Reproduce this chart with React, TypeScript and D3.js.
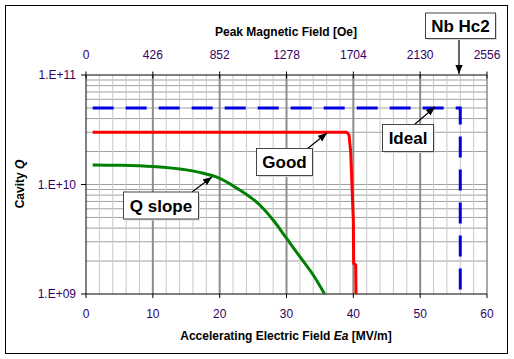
import React from "react";
import * as d3 from "d3";

const eaTicks = [0, 10, 20, 30, 40, 50, 60];
const hpkLabels = ["0", "426", "852", "1278", "1704", "2130", "2556"];
const qTickValues = [1e9, 1e10, 1e11];
const qTickLabels = ["1.E+09", "1.E+10", "1.E+11"];

const idealEa = [1, 56, 56];
const idealQ = [5e10, 5e10, 1e9];

const goodEa = [1, 39.0, 39.35, 39.6, 40.0, 40.05, 40.35, 40.4];
const goodQ = [3e10, 3e10, 2.85e10, 2e10, 4.7e9, 1.9e9, 1.85e9, 1e9];

const qslopeEa = [1, 5, 10, 15, 17, 20, 23, 26, 28, 30, 32, 34, 35.7];
const qslopeQ = [1.51e10, 1.5e10, 1.46e10, 1.36e10, 1.29e10, 1.14e10, 8.9e9, 6.5e9, 4.74e9, 3.23e9, 2.19e9, 1.49e9, 1e9];

const W = 514, H = 359;
const L = 86, R = 487, T = 75, B = 294;
const FONT = "'Liberation Sans', Arial, sans-serif";
const TICKCOLOR = "#330066";

type Ann = { text: string; x: number; y: number; w: number; h: number; ax1: number; ay1: number; ax2: number; ay2: number };
const annotations: Ann[] = [
  { text: "Nb Hc2", x: 425, y: 12.5, w: 70, h: 25.5, ax1: 459, ay1: 38, ax2: 459, ay2: 74 },
  { text: "Ideal", x: 382, y: 124, w: 51, h: 27, ax1: 415, ay1: 124, ax2: 435, ay2: 107 },
  { text: "Good", x: 256, y: 148, w: 56, h: 27, ax1: 307, ay1: 149, ax2: 327, ay2: 133 },
  { text: "Q slope", x: 123, y: 191.5, w: 75, h: 27, ax1: 192, ay1: 192, ax2: 212, ay2: 177 },
];

export default function App() {
  const x = d3.scaleLinear().domain([0, 60]).range([L, R]);
  const y = d3.scaleLog().domain([1e9, 1e11]).range([B, T]);

  const line = d3
    .line<[number, number]>()
    .x((d) => x(d[0]))
    .y((d) => y(d[1]));
  const smooth = d3
    .line<[number, number]>()
    .x((d) => x(d[0]))
    .y((d) => y(d[1]))
    .curve(d3.curveMonotoneX);

  const idealPts = idealEa.map((e, i) => [e, idealQ[i]] as [number, number]);
  const goodPts = goodEa.map((e, i) => [e, goodQ[i]] as [number, number]);
  const qsPts = qslopeEa.map((e, i) => [e, qslopeQ[i]] as [number, number]);

  const minorX = d3.range(2, 60, 2).filter((v) => v % 10 !== 0);
  const majorX = [10, 20, 30, 40, 50];
  const minorY: number[] = [];
  [1e9, 1e10].forEach((dec) => {
    for (let k = 2; k <= 9; k++) minorY.push(dec * k);
  });

  return (
    <svg
      width={W}
      height={H}
      style={{ position: "absolute", left: 0, top: 0, background: "#fff" }}
      fontFamily={FONT}
    >
      <defs>
        <marker id="ah" viewBox="0 0 10 10" refX="10" refY="5" markerWidth="9" markerHeight="9" markerUnits="userSpaceOnUse" orient="auto">
          <path d="M0,1 L10,5 L0,9 Z" fill="#000" />
        </marker>
      </defs>
      <rect x={0} y={0} width={W} height={H} fill="#fff" />
      <rect x={5.5} y={5.5} width={502} height={348} fill="none" stroke="#000" strokeWidth={1} />

      {/* grid */}
      {minorY.map((v) => (
        <line key={"hy" + v} x1={L} x2={R} y1={y(v)} y2={y(v)} stroke="#a0a0a0" strokeWidth={1} />
      ))}
      <line x1={L} x2={R} y1={y(1e10)} y2={y(1e10)} stroke="#a0a0a0" strokeWidth={1} />
      {minorX.map((v) => (
        <line key={"vx" + v} x1={x(v)} x2={x(v)} y1={T} y2={B} stroke="#c8c8c8" strokeWidth={1} />
      ))}
      {majorX.map((v) => (
        <line key={"Vx" + v} x1={x(v)} x2={x(v)} y1={T} y2={B} stroke="#8c8c8c" strokeWidth={2} />
      ))}

      {/* plot frame */}
      <line x1={R} x2={R} y1={T} y2={B} stroke="#555" strokeWidth={1} />
      <line x1={L} x2={R} y1={T} y2={T} stroke="#000" strokeWidth={1} />
      <line x1={L} x2={R} y1={B} y2={B} stroke="#000" strokeWidth={1} />
      <line x1={L} x2={L} y1={T} y2={B} stroke="#000" strokeWidth={1} />

      {/* ticks */}
      {eaTicks.map((v, i) => (
        <g key={"t" + v}>
          <line x1={x(v)} x2={x(v)} y1={B} y2={B + 4} stroke="#000" />
          <line x1={x(v)} x2={x(v)} y1={T - 3.5} y2={T + 3.5} stroke="#000" />
          <text x={x(v)} y={318} textAnchor="middle" fontSize={12} fill={TICKCOLOR}>
            {v}
          </text>
          <text x={x(v)} y={59} textAnchor="middle" fontSize={12} fill={TICKCOLOR}>
            {hpkLabels[i]}
          </text>
        </g>
      ))}
      {qTickValues.map((v, i) => (
        <g key={"q" + v}>
          <line x1={L - 5} x2={L} y1={y(v)} y2={y(v)} stroke="#000" />
          <text x={76} y={y(v) + 4} textAnchor="end" fontSize={12} fill={TICKCOLOR}>
            {qTickLabels[i]}
          </text>
        </g>
      ))}

      {/* titles */}
      <text x={286} y={36} textAnchor="middle" fontSize={12} fontWeight="bold" fill="#000">
        Peak Magnetic Field [Oe]
      </text>
      <text x={286} y={340} textAnchor="middle" fontSize={12} fontWeight="bold" fill="#000">
        Accelerating Electric Field <tspan fontStyle="italic">Ea</tspan>{"  "}[MV/m]
      </text>
      <text
        transform={`translate(24,184) rotate(-90)`}
        textAnchor="middle"
        fontSize={12}
        fontWeight="bold"
        fill="#000"
      >
        Cavity <tspan fontStyle="italic">Q</tspan>
      </text>

      {/* series */}
      <path d={line(idealPts) || ""} fill="none" stroke="#0000e0" strokeWidth={3} strokeDasharray="21,12" />
      <path d={line(goodPts) || ""} fill="none" stroke="#ff0000" strokeWidth={3} strokeLinejoin="round" />
      <path d={smooth(qsPts) || ""} fill="none" stroke="#008000" strokeWidth={3} />

      {/* annotations */}
      {annotations.map((a) => (
        <g key={a.text}>
          <line x1={a.ax1} y1={a.ay1} x2={a.ax2} y2={a.ay2} stroke="#000" strokeWidth={1.2} markerEnd="url(#ah)" />
          <rect x={a.x + 2} y={a.y + 2} width={a.w} height={a.h} fill="#d8d8d8" />
          <rect x={a.x + 0.5} y={a.y + 0.5} width={a.w} height={a.h} fill="#fff" stroke="#444" strokeWidth={1} />
          <text
            x={a.x + a.w / 2 + 0.5}
            y={a.y + a.h / 2 + 6.5}
            textAnchor="middle"
            fontSize={17}
            fontWeight="bold"
            fill="#000"
          >
            {a.text}
          </text>
        </g>
      ))}
    </svg>
  );
}
